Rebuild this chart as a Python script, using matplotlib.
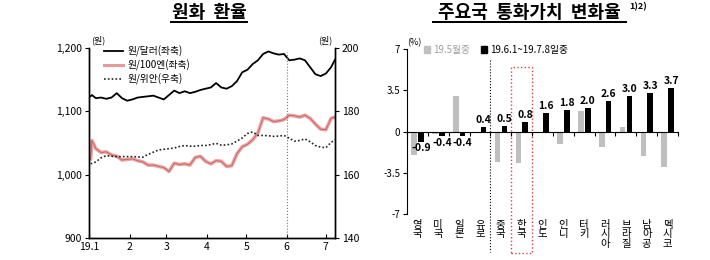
import matplotlib.pyplot as plt
import numpy as np
import pandas as pd
from matplotlib.patches import Patch, Rectangle
from matplotlib.lines import Line2D

plt.rcParams['font.family'] = ['Noto Sans CJK KR', 'DejaVu Sans']
plt.rcParams['axes.unicode_minus'] = False

# ---- left chart: won exchange rates (days since 2019-01-01) ----
days = [1, 2, 5, 9, 13, 17, 21, 25, 29, 33, 37, 41, 45, 49, 53, 57, 61, 65, 69, 73,
        77, 81, 85, 89, 93, 97, 101, 105, 109, 113, 117, 121, 125, 129, 133, 137, 141,
        145, 149, 153, 157, 161, 165, 169, 173, 177, 181, 185, 188]
usd = [1124, 1126, 1121, 1122, 1120, 1122, 1129, 1121, 1117, 1119, 1122, 1123, 1124,
       1125, 1122, 1119, 1126, 1133, 1129, 1132, 1129, 1131, 1134, 1136, 1138, 1145,
       1138, 1136, 1140, 1148, 1162, 1166, 1175, 1181, 1191, 1195, 1192, 1190, 1191,
       1181, 1182, 1184, 1181, 1170, 1159, 1156, 1160, 1170, 1182]
jpy = [1024, 1054, 1041, 1035, 1036, 1031, 1029, 1023, 1024, 1025, 1022, 1020, 1015,
       1015, 1013, 1011, 1005, 1018, 1016, 1017, 1015, 1027, 1029, 1021, 1017, 1022,
       1021, 1013, 1014, 1033, 1044, 1048, 1055, 1066, 1090, 1088, 1084, 1085, 1087,
       1094, 1093, 1091, 1094, 1089, 1080, 1072, 1071, 1089, 1091]
cny = [163.5, 163.5, 164.0, 165.3, 166.0, 165.8, 165.7, 165.7, 165.7, 165.7, 165.6,
       165.5, 166.4, 167.1, 167.8, 168.0, 168.2, 168.4, 168.9, 169.2, 169.0, 169.0,
       169.2, 169.2, 169.5, 169.9, 169.3, 169.4, 169.7, 170.6, 171.6, 173.0, 173.5,
       172.4, 172.4, 172.3, 172.1, 172.2, 172.4, 171.5, 170.6, 170.8, 171.3, 170.4,
       169.2, 168.7, 168.5, 170.2, 171.0]
month_ticks = ['2019-01-01', '2019-02-01', '2019-03-01', '2019-04-01', '2019-05-01',
               '2019-06-01', '2019-07-01']
month_labels = ['19.1', '2', '3', '4', '5', '6', '7']

# ---- right chart: currency value changes (%) ----
countries = ['영국', '미국', '일본', '유로', '중국', '한국', '인도', '인니', '터키',
             '러시아', '브라질', '남아공', '멕시코']
chg_may = [-2.0, -0.2, 3.0, -0.1, -2.6, -2.7, 0.0, -1.1, 1.7, -1.3, 0.4, -2.1, -3.0]
chg_jun_jul = [-0.9, -0.4, -0.4, 0.4, 0.5, 0.8, 1.6, 1.8, 2.0, 2.6, 3.0, 3.3, 3.7]

W, H = 710, 260
fig = plt.figure(figsize=(7.1, 2.6), dpi=100)

# ================= left =================
ax = fig.add_axes([89.3 / W, 1 - 237.7 / H, (335 - 89.3) / W, (237.7 - 48.3) / H])
ax2 = ax.twinx()
dates = pd.Timestamp('2019-01-01') + pd.to_timedelta(days, unit='D')

l1, = ax.plot(dates, usd, color='black', lw=1.3)
ax.plot(dates, jpy, color='#eaa5a5', lw=2.6, solid_capstyle='round')
ax.plot(dates, jpy, color='#c65a5a', lw=0.6)
l3, = ax2.plot(dates, cny, color='#222222', lw=1.2, ls=(0, (1, 1.3)))
l2 = Line2D([], [], color='#e59b9b', lw=2.2)

ax.set_ylim(900, 1200)
ax2.set_ylim(140, 200)
ax.set_xlim(pd.Timestamp('2019-01-01'), pd.Timestamp('2019-07-08'))
ax.set_yticks([900, 1000, 1100, 1200])
ax.set_yticklabels(['900', '1,000', '1,100', '1,200'])
ax2.set_yticks([140, 160, 180, 200])
ax.set_xticks(pd.to_datetime(month_ticks))
ax.set_xticklabels(month_labels)
for a in (ax, ax2):
    a.spines['top'].set_visible(False)
    for s in a.spines.values():
        s.set_linewidth(1.0)
    a.tick_params(labelsize=7.5, length=3, width=0.8, pad=2)
ax.tick_params(axis='x', direction='in', pad=3)
ax.axvline(pd.Timestamp('2019-06-01'), ymin=0, ymax=0.98, color='#777777', lw=0.8, ls=':')

ax.legend([l1, l2, l3], ['원/달러(좌축)', '원/100엔(좌축)', '원/위안(우축)'],
          loc='upper left', bbox_to_anchor=(104 / W, 1 - 46 / H),
          bbox_transform=fig.transFigure, frameon=False, fontsize=7,
          handlelength=2.0, handletextpad=0.4, labelspacing=0.25,
          borderpad=0, borderaxespad=0)

fig.text(98 / W, 1 - 40 / H, '(원)', ha='center', va='center', fontsize=6.5)
fig.text(325 / W, 1 - 40 / H, '(원)', ha='center', va='center', fontsize=6.5)

# ================= right =================
bx = fig.add_axes([407 / W, 1 - 214 / H, 271 / W, 165 / H])
x = np.arange(len(countries))
bx.bar(x - 0.16, chg_may, width=0.27, color='#bfbfbf')
bx.bar(x + 0.17, chg_jun_jul, width=0.27, color='black')
for xi, v in zip(x, chg_jun_jul):
    if v >= 0:
        bx.annotate(f'{v:.1f}', (xi + 0.17, v), xytext=(0, 1.5), textcoords='offset points',
                    ha='center', va='bottom', fontsize=7.5, fontweight='bold')
    else:
        bx.annotate(f'{v:.1f}', (xi + 0.17, v), xytext=(0, -1), textcoords='offset points',
                    ha='center', va='top', fontsize=7.5, fontweight='bold')

bx.set_xlim(-0.5, len(countries) - 0.5)
bx.set_ylim(-7, 7)
bx.set_yticks([-7, -3.5, 0, 3.5, 7])
bx.set_yticklabels(['-7', '-3.5', '0', '3.5', '7'])
bx.set_xticks(np.arange(len(countries) + 1) - 0.5)
bx.set_xticklabels([])
bx.spines['top'].set_visible(False)
bx.spines['right'].set_visible(False)
bx.spines['bottom'].set_position(('data', 0))
bx.tick_params(labelsize=7, length=3, width=0.8, pad=2)

for xi, c in zip(x, countries):
    bx.text(xi, -7.5, '\n'.join(c), ha='center', va='top', fontsize=7.5, linespacing=0.95)

bx.plot([3.5, 3.5], [6.1, -10.2], color='black', lw=0.8, ls=':', clip_on=False)
bx.add_patch(Rectangle((4.5, -10.3), 1, 15.8, fill=False, edgecolor='#e04040',
                       lw=1.0, ls=':', clip_on=False))

leg = bx.legend([Patch(color='#bfbfbf'), Patch(color='black')],
                ['19.5월중', '19.6.1~19.7.8일중'], loc='upper left',
                bbox_to_anchor=(424 / W, 1 - 45 / H), bbox_transform=fig.transFigure,
                ncol=2, frameon=False, fontsize=7, handlelength=0.6, handleheight=0.6,
                handletextpad=0.3, columnspacing=1.2, borderpad=0, borderaxespad=0)
leg.get_texts()[0].set_color('#a0a0a0')

fig.text(414 / W, 1 - 43 / H, '(%)', ha='center', va='center', fontsize=6.5)

# ================= titles =================
fig.text(209 / W, 1 - 12 / H, '원화  환율', ha='center', va='center',
         fontsize=13, fontweight='bold')
fig.text(529 / W, 1 - 12 / H, '주요국  통화가치  변화율', ha='center', va='center',
         fontsize=13, fontweight='bold')
fig.text(629 / W, 1 - 7 / H, '1)2)', ha='left', va='center', fontsize=6.5, fontweight='bold')

# title underlines as thin filled bars
for x0, x1 in [(170, 248), (432, 627)]:
    fig.patches.append(Rectangle((x0 / W, 1 - 23 / H), (x1 - x0) / W, 1.6 / H,
                                 transform=fig.transFigure, facecolor='black',
                                 edgecolor='none', figure=fig))

fig.savefig('out.png', dpi=100)
